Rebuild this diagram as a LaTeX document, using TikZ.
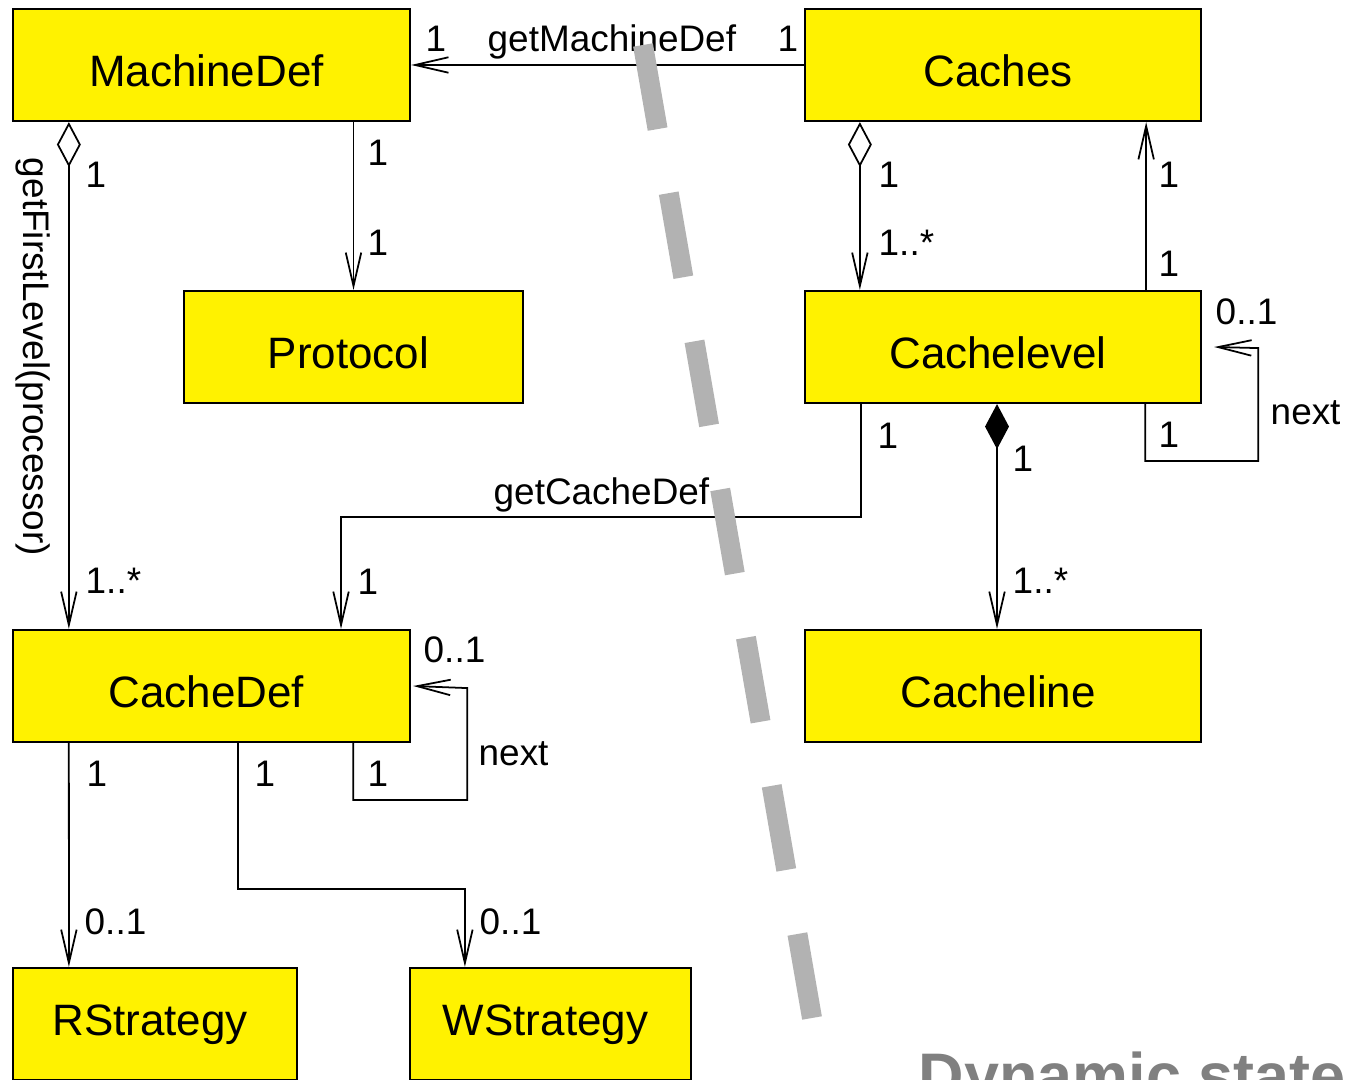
\documentclass[tikz,border=0pt]{standalone}
\usepackage{fontspec}
\setmainfont{Liberation Sans}
\usetikzlibrary{arrows.meta,positioning,calc}
\definecolor{dashgray}{RGB}{178,178,178}
\definecolor{stategray}{RGB}{128,128,128}

\begin{document}
\begin{tikzpicture}[x=0.01cm,y=-0.01cm,
    cls/.style={rectangle,draw,fill=yellow,line width=0.6pt,minimum height=1.12cm,inner sep=0pt,
      text height=0.42cm,text depth=0pt,execute at end node={\hspace{0.1cm}},font=\fontsize{12.5}{15}\selectfont},
    lbl/.style={anchor=base west,inner sep=0pt,font=\fontsize{10.5}{12}\selectfont},
    arr/.style={draw,line width=0.5pt,-{Straight Barb[length=9.5pt,width=4.4pt]}},
    aggarr/.style={draw,line width=0.5pt,{Diamond[open,length=12.8pt,width=6.8pt]}-{Straight Barb[length=9.5pt,width=4.4pt]}},
    comparr/.style={draw,line width=0.5pt,{Diamond[length=12.8pt,width=6.8pt]}-{Straight Barb[length=9.5pt,width=4.4pt]}}]

    \useasboundingbox (0,0) rectangle (1346,1080);

    \node[cls,minimum width=3.97cm] (mdef) at (211.5,65) {MachineDef};
    \node[cls,minimum width=3.96cm] (caches) at (1003,65) {Caches};
    \node[cls,minimum width=3.39cm] (proto) at (353.5,347) {Protocol\hspace{0.12cm}};
    \node[cls,minimum width=3.96cm] (clevel) at (1003,347) {Cachelevel};
    \node[cls,minimum width=3.97cm] (cdef) at (211.5,686) {CacheDef};
    \node[cls,minimum width=3.96cm] (cline) at (1003,686) {Cacheline};
    \node[cls,minimum width=2.84cm,text height=0.22cm] (rstrat) at (155,1024) {RStrategy};
    \node[cls,minimum width=2.81cm,text height=0.22cm] (wstrat) at (550.5,1024) {WStrategy};

    \draw[arr] (caches.west) -- (mdef.east);
    \draw[arr] (proto.north |- mdef.south) -- (proto.north);
    \draw[aggarr] ([xshift=0.57cm]mdef.south west) -- ([xshift=0.57cm]cdef.north west);
    \draw[aggarr] ([xshift=0.56cm]caches.south west) -- ([xshift=0.56cm]clevel.north west);
    \draw[arr] ([xshift=-0.56cm]clevel.north east) -- ([xshift=-0.56cm]caches.south east);
    \draw[arr] ([xshift=-0.57cm]clevel.south east) -- ++(0,57) -| ++(113,-113) -- ([xshift=0.12cm]clevel.east);
    \draw[arr] ([xshift=0.57cm]clevel.south west) -- ++(0,113) -| ([xshift=3.29cm]cdef.north west);
    \draw[comparr] ([xshift=-0.06cm]clevel.south) -- ([xshift=-0.06cm]cline.north);
    \draw[arr] ([xshift=-0.58cm]cdef.south east) -- ++(0,57) -| ++(114,-112) -- ([xshift=0.02cm]cdef.east);
    \draw[arr] ([xshift=0.57cm]cdef.south west) -- ([xshift=0.57cm]rstrat.north west);
    \draw[arr] ([xshift=2.26cm]cdef.south west) -- ++(0,146) -| ([xshift=0.56cm]wstrat.north west);

    % Multiplicities and roles
    \node[lbl] (m1) at (425,52) {1};
    \node[lbl] (getmd) at (487,52) {getMachineDef};
    \node[lbl] (m2) at (777,52) {1};
    \node[lbl] (m3) at (367,166) {1};
    \node[lbl] (m4) at (367,256) {1};
    \node[lbl] (m5) at (85,188) {1};
    \node[lbl] (m6) at (85,594) {1..*};
    \node[lbl,rotate=-90,anchor=center] (getfl) at (33,357) {getFirstLevel(processor)};
    \node[lbl] (m7) at (878,188) {1};
    \node[lbl] (m8) at (878,256) {1..*};
    \node[lbl] (m9) at (1158,188) {1};
    \node[lbl] (m10) at (1158,277) {1};
    \node[lbl] (m11) at (1215,325) {0..1};
    \node[lbl] (next1) at (1270,425) {next};
    \node[lbl] (m12) at (1158,448) {1};
    \node[lbl] (m13) at (877,449) {1};
    \node[lbl] (getcd) at (493,505) {getCacheDef};
    \node[lbl] (m14) at (357,595) {1};
    \node[lbl] (m15) at (1012,472) {1};
    \node[lbl] (m16) at (1012,594) {1..*};
    \node[lbl] (m17) at (423,663) {0..1};
    \node[lbl] (next2) at (478,765) {next};
    \node[lbl] (m18) at (367,787) {1};
    \node[lbl] (m19) at (86,787) {1};
    \node[lbl] (m20) at (84,934) {0..1};
    \node[lbl] (m21) at (254,787) {1};
    \node[lbl] (m22) at (479,934) {0..1};

    % Static / dynamic split
    \draw[dashgray,line width=0.2cm,dash pattern=on 0.853cm off 0.65cm] (643,45) -- (812,1018);
    \node[anchor=base west,inner sep=0pt,text=stategray,font=\fontsize{17.9}{20}\selectfont\bfseries] (dyn) at (918,1097) {Dynamic state};
\end{tikzpicture}
\end{document}
